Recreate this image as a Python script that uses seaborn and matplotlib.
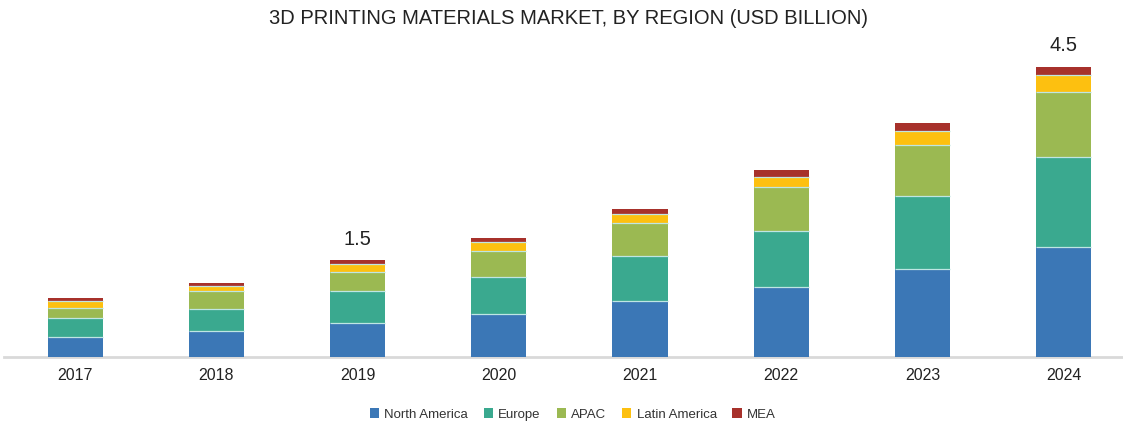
import matplotlib
matplotlib.use("Agg")
import matplotlib.pyplot as plt
from matplotlib.patches import Patch
import seaborn as sns
import pandas as pd
import numpy as np

years = ["2017", "2018", "2019", "2020", "2021", "2022", "2023", "2024"]
regions = ["North America", "Europe", "APAC", "Latin America", "MEA"]

north_america = [0.31, 0.40, 0.53, 0.67, 0.86, 1.09, 1.37, 1.70]
europe = [0.29, 0.35, 0.49, 0.57, 0.70, 0.87, 1.13, 1.40]
apac = [0.16, 0.28, 0.30, 0.41, 0.51, 0.67, 0.79, 1.00]
latin_america = [0.10, 0.07, 0.12, 0.13, 0.15, 0.16, 0.21, 0.27]
mea = [0.05, 0.05, 0.06, 0.06, 0.07, 0.10, 0.12, 0.13]

labelled_years = ["2019", "2024"]
labelled_totals = ["1.5", "4.5"]

colors = ["#3b77b6", "#3aa98f", "#9bb952", "#fdc010", "#a7312b"]

sns.set_theme(style="white")
plt.rcParams["font.family"] = ["Liberation Sans", "DejaVu Sans"]

df = pd.DataFrame({
    "year": years,
    "North America": north_america,
    "Europe": europe,
    "APAC": apac,
    "Latin America": latin_america,
    "MEA": mea,
})

fig = plt.figure(figsize=(11.23, 4.26), dpi=100)
ax = fig.add_axes([0.004, 0.162, 0.996, 0.768])

# stacked bars: draw cumulative heights, the lowest region layered on top
bottom = np.zeros(len(years))
for region, color in zip(regions, colors):
    vals = df[region].to_numpy()
    sns.barplot(x=df["year"], y=bottom + vals, color=color, ax=ax,
                width=0.39, saturation=1, edgecolor="none")
    bottom = bottom + vals

n = len(years)
for i in range(len(regions)):
    for p in ax.patches[i * n:(i + 1) * n]:
        p.set_zorder(10 - i)

# thin light separators between stacked segments
cum = np.zeros(n)
for region in regions[:-1]:
    cum = cum + df[region].to_numpy()
    for j in range(n):
        ax.plot([j - 0.195, j + 0.195], [cum[j], cum[j]], color="#bfe6e3",
                lw=0.9, zorder=20, solid_capstyle="butt")

totals = df[regions].sum(axis=1).to_numpy()
for yr, lab in zip(labelled_years, labelled_totals):
    j = years.index(yr)
    ax.text(j, totals[j] + 0.18, lab, ha="center", va="bottom",
            fontsize=14.5, color="#222222")

ax.set_xlim(-0.5, 7.42)
ax.set_ylim(0, 5.07)
ax.set_xlabel("")
ax.set_ylabel("")
ax.set_yticks([])
sns.despine(ax=ax, left=True, top=True, right=True)
ax.spines["bottom"].set_color("#d9d9d9")
ax.spines["bottom"].set_linewidth(2)
ax.tick_params(axis="x", length=0, labelsize=11.5, labelcolor="#222222", pad=8)

fig.text(0.506, 0.979, "3D PRINTING MATERIALS MARKET, BY REGION (USD BILLION)",
         ha="center", va="top", fontsize=14.5, color="#222222")

handles = [Patch(facecolor=c, edgecolor="none") for c in colors]
fig.legend(handles, regions, loc="center", bbox_to_anchor=(0.51, 0.027),
           ncol=5, frameon=False, fontsize=9.5, handlelength=0.7,
           handleheight=0.7, handletextpad=0.4, columnspacing=1.2,
           labelcolor="#333333")

fig.savefig("out.png", dpi=100, facecolor="white")
